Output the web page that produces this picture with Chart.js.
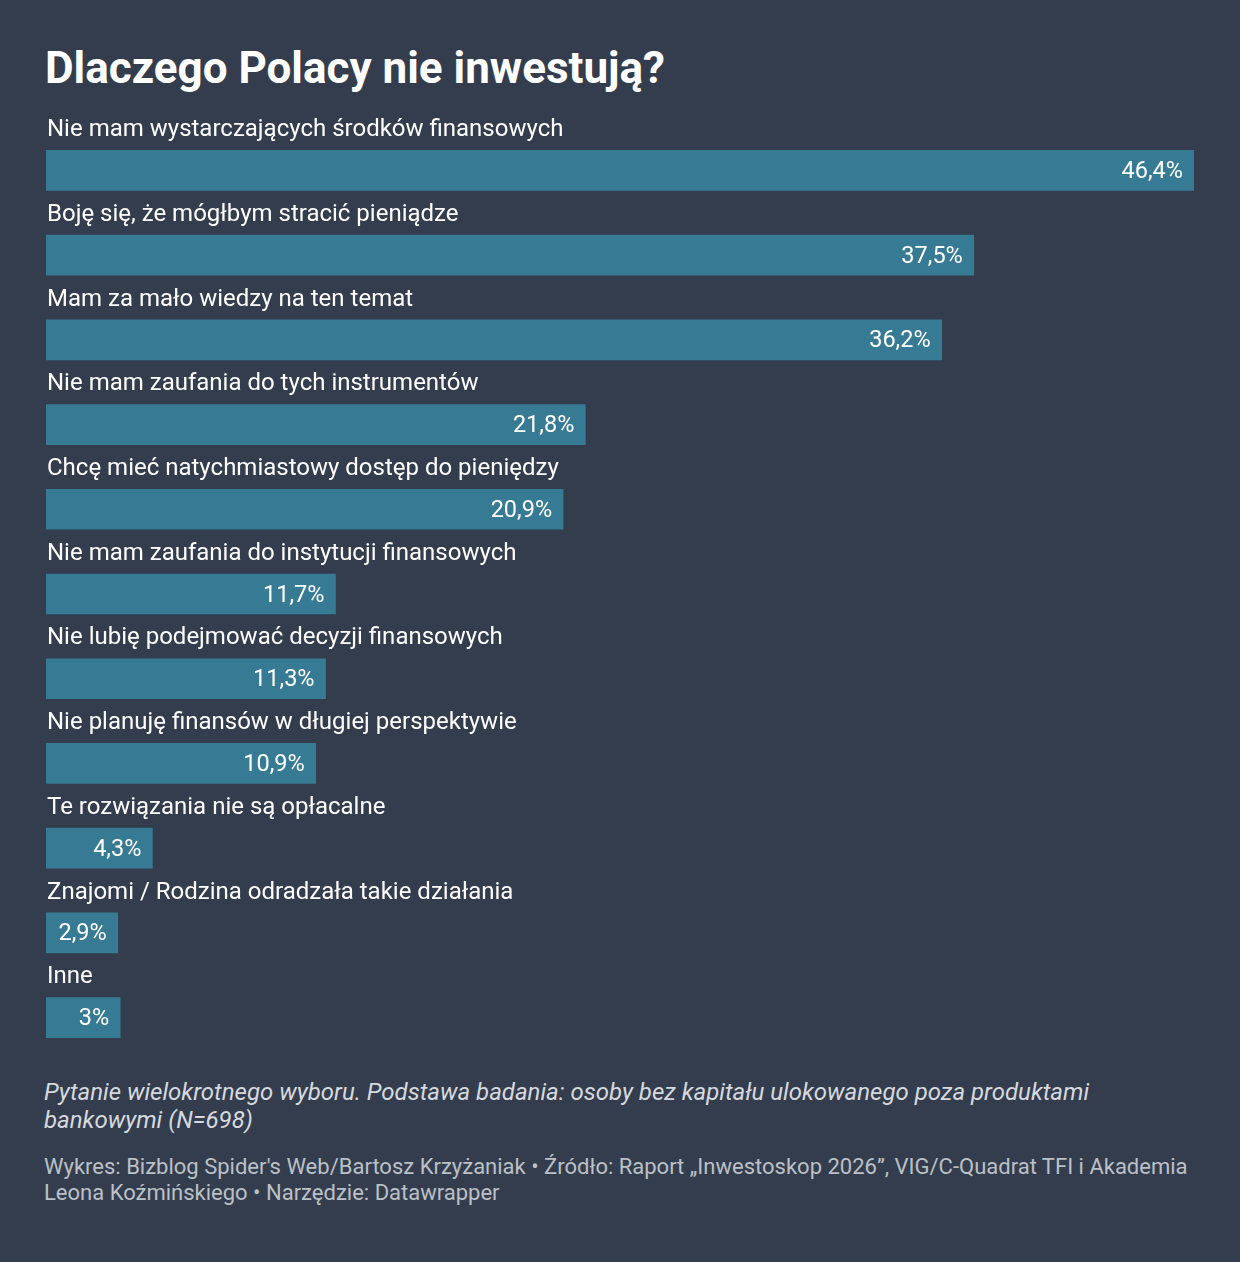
<!DOCTYPE html>
<html lang="pl">
<head>
<meta charset="utf-8">
<title>Dlaczego Polacy nie inwestują?</title>
<script src="https://cdn.jsdelivr.net/npm/chart.js@4"></script>
<style>
  html, body { margin: 0; padding: 0; background: #333d4d; }
  body { width: 1240px; height: 1262px; position: relative; font-family: Roboto, "Noto Sans", sans-serif; overflow: hidden; }
  h1 { position: absolute; left: 45px; top: 43px; margin: 0; font-size: 44px; line-height: 50px; font-weight: 700; color: #ffffff; white-space: nowrap; }
  #wrap { position: absolute; left: 0; top: 0; width: 1240px; height: 1070px; }
  .note { position: absolute; left: 44px; top: 1078px; margin: 0; font-size: 24px; line-height: 28px; font-style: italic; color: #d6d9de; white-space: nowrap; }
  .source { position: absolute; left: 44px; top: 1154px; margin: 0; font-size: 22px; line-height: 26px; color: #bcc0c7; white-space: nowrap; }
</style>
</head>
<body>
<h1>Dlaczego Polacy nie inwestują?</h1>
<div id="wrap"><canvas id="myChart"></canvas></div>
<p class="note">Pytanie wielokrotnego wyboru. Podstawa badania: osoby bez kapitału ulokowanego poza produktami<br>bankowymi (N=698)</p>
<p class="source">Wykres: Bizblog Spider's Web/Bartosz Krzyżaniak • Źródło: Raport „Inwestoskop 2026”, VIG/C-Quadrat TFI i Akademia<br>Leona Koźmińskiego • Narzędzie: Datawrapper</p>

<script>
var categories = [
    "Nie mam wystarczających środków finansowych",
    "Boję się, że mógłbym stracić pieniądze",
    "Mam za mało wiedzy na ten temat",
    "Nie mam zaufania do tych instrumentów",
    "Chcę mieć natychmiastowy dostęp do pieniędzy",
    "Nie mam zaufania do instytucji finansowych",
    "Nie lubię podejmować decyzji finansowych",
    "Nie planuję finansów w długiej perspektywie",
    "Te rozwiązania nie są opłacalne",
    "Znajomi / Rodzina odradzała takie działania",
    "Inne"
];
var values = [46.4, 37.5, 36.2, 21.8, 20.9, 11.7, 11.3, 10.9, 4.3, 2.9, 3];
var xMax = 46.4;

// category text above each bar, value at the bar's right end
var barLabels = {
    id: "barLabels",
    afterDatasetsDraw: function (chart) {
        var ctx = chart.ctx;
        var meta = chart.getDatasetMeta(0);
        ctx.save();
        ctx.fillStyle = "#ffffff";
        ctx.textBaseline = "alphabetic";
        meta.data.forEach(function (bar, i) {
            ctx.font = "24px Roboto";
            ctx.textAlign = "left";
            ctx.fillText(categories[i], chart.chartArea.left + 1, bar.y - 34.3);
            ctx.font = "23.5px Roboto";
            ctx.textAlign = "right";
            ctx.fillText(String(values[i]).replace(".", ",") + "%", bar.x - 11, bar.y + 7.5);
        });
        ctx.restore();
    }
};

new Chart("myChart", {
    type: "bar",
    data: {
        labels: categories,
        datasets: [{
            data: values,
            backgroundColor: "#367a94",
            barThickness: 40
        }]
    },
    options: {
        indexAxis: "y",
        responsive: true,
        maintainAspectRatio: false,
        animation: false,
        layout: { padding: { left: 46, right: 46, top: 128, bottom: 10 } },
        scales: {
            x: { display: false, min: 0, max: xMax },
            y: { display: false }
        },
        plugins: {
            legend: { display: false },
            tooltip: { enabled: false }
        }
    },
    plugins: [barLabels]
});
</script>
</body>
</html>
